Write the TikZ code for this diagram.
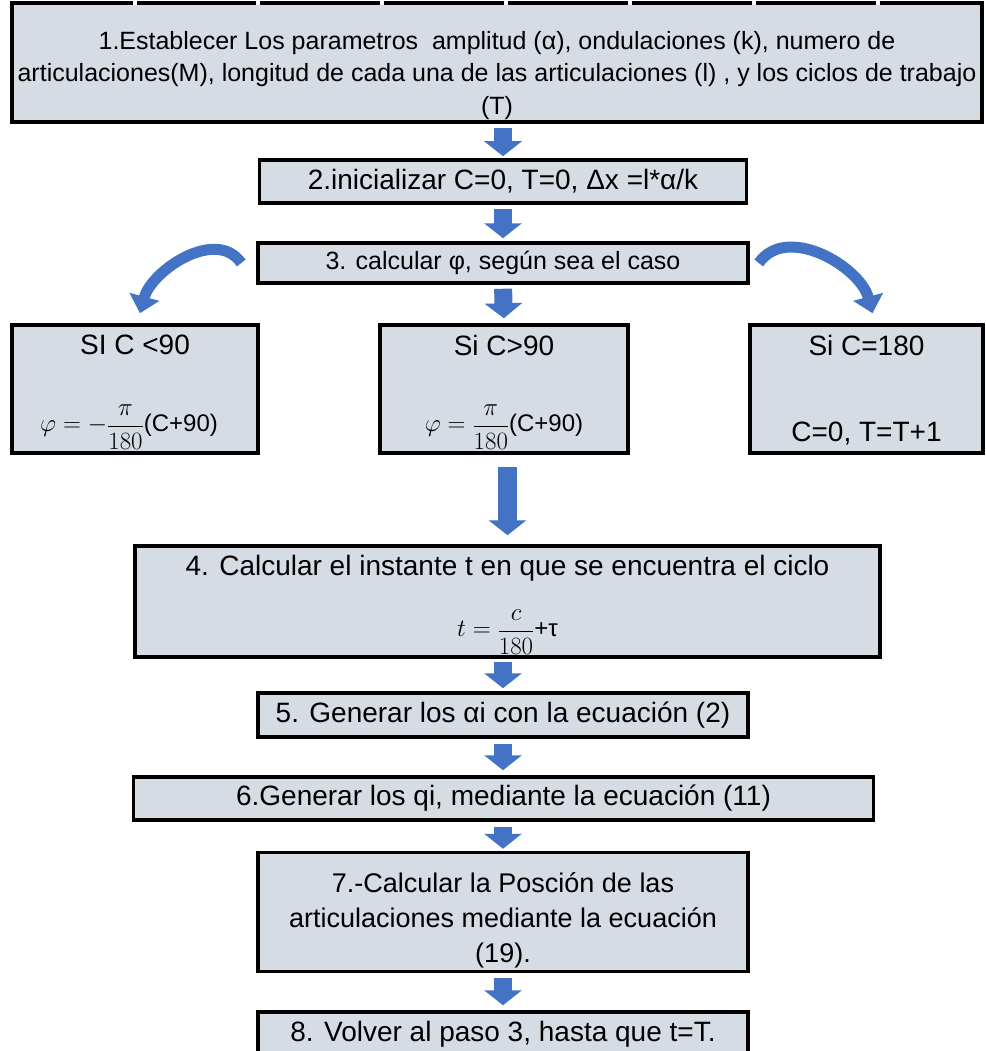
\documentclass[tikz,border=0pt]{standalone}
\usepackage[no-math]{fontspec}
\setmainfont{Liberation Sans}
\usetikzlibrary{arrows.meta}
\definecolor{boxfill}{HTML}{D6DCE4}
\definecolor{arrowblue}{HTML}{4472C4}
\newcommand{\bigmath}[1]{{\fontsize{26}{30}\selectfont$\displaystyle #1$}}
\tikzset{
  stepbox/.style={draw=black,line width=3.5pt,fill=boxfill,inner sep=0pt,align=center,
    font=\fontsize{28}{34}\selectfont},
  steptext/.style={inner sep=0pt,align=center,font=\fontsize{28}{34}\selectfont},
  formula/.style={inner sep=0pt,font=\fontsize{24}{28}\selectfont},
  blockarrow/.style={arrowblue,line width=18pt,-{Triangle[width=37pt,length=15pt]}},
  curvearrow/.style={arrowblue,line width=11pt,-{Triangle[width=30pt,length=17pt]}},
}

\begin{document}
\begin{tikzpicture}[x=1pt,y=-1pt]
  \useasboundingbox (0,0) rectangle (985,1051);
  % main column
  \node[stepbox,minimum width=970pt,minimum height=119pt] (b1) at (497,62.5) {};
  \foreach \gx in {135,258,382,506,630,754,878}
    \fill[white] (\gx-2,0) rectangle (\gx+2,5);
  \node[steptext,font=\fontsize{25}{32.5}\selectfont] (b1t) at ([yshift=-13pt]b1.center)
    {1.Establecer Los parametros~ amplitud (α), ondulaciones (k), numero de\\
     articulaciones(M), longitud de cada una de las articulaciones (l) , y los ciclos de trabajo\\(T)};
  \node[stepbox,minimum width=487pt,minimum height=43pt] (b2) at (503,181.5)
    {2.inicializar C=0, T=0, Δx =l*α/k};
  \node[stepbox,minimum width=490pt,minimum height=40pt,font=\fontsize{25}{30}\selectfont] (b3) at (503,263)
    {3. calcular φ, según sea el caso};
  % cases
  \node[stepbox,minimum width=246pt,minimum height=128pt] (bl) at (135,389) {};
  \node[steptext] (blt) at ([yshift=-22pt]bl.north) {SI C <90};
  \node[formula] (blf) at ([xshift=-6pt,yshift=28pt]bl.south) {\bigmath{\varphi=-\frac{\pi}{180}}(C+90)};
  \node[stepbox,minimum width=248pt,minimum height=128pt] (bm) at (504,389) {};
  \node[steptext] (bmt) at ([yshift=-22pt]bm.north) {Si C>90};
  \node[formula] (bmf) at ([yshift=28pt]bm.south) {\bigmath{\varphi=\frac{\pi}{180}}(C+90)};
  \node[stepbox,minimum width=233pt,minimum height=128pt] (br) at (866.5,389) {};
  \node[steptext] (brt) at ([yshift=-22pt]br.north) {Si C=180};
  \node[steptext] (brf) at ([yshift=21pt]br.south) {C=0, T=T+1};
  % step 4 and onwards
  \node[stepbox,minimum width=745pt,minimum height=111pt] (b4) at (507.5,601.5) {};
  \node[steptext] (b4t) at ([yshift=-24pt]b4.north) {4. Calcular el instante t en que se encuentra el ciclo};
  \node[formula] (b4f) at ([yshift=27pt]b4.south) {\bigmath{t=\frac{c}{180}}+τ};
  \node[stepbox,minimum width=490pt,minimum height=44pt] (b5) at (503,715)
    {5. Generar los αi con la ecuación (2)};
  \node[stepbox,minimum width=740pt,minimum height=43pt] (b6) at (503.5,798.5)
    {6.Generar los qi, mediante la ecuación (11)};
  \node[stepbox,minimum width=490pt,minimum height=119pt] (b7) at (503,912) {};
  \node[steptext,font=\fontsize{27}{35}\selectfont] (b7t) at ([yshift=-8pt]b7.center)
    {7.-Calcular la Posción de las\\articulaciones mediante la ecuación\\(19).};
  \node[stepbox,minimum width=490pt,minimum height=44pt] (b8) at (503,1034)
    {8. Volver al paso 3, hasta que t=T.};
  % arrows
  \draw[blockarrow,shorten <=4pt,shorten >=2pt] (b1.south -| b2.north) -- (b2.north);
  \draw[blockarrow,shorten <=4pt,shorten >=3pt] (b2.south) -- (b3.north);
  \draw[blockarrow,shorten <=4pt,shorten >=5pt] (b3.south) -- (bm.north);
  \draw[blockarrow,line width=19pt,shorten <=12pt,shorten >=9pt] (bm.south -| b4.north) -- (b4.north);
  \draw[blockarrow,shorten <=3pt,shorten >=3pt] (b4.south -| b5.north) -- (b5.north);
  \draw[blockarrow,shorten <=5pt,shorten >=5pt] (b5.south) -- (b6.north -| b5.south);
  \draw[blockarrow,shorten <=5pt,shorten >=2pt] (b6.south -| b7.north) -- (b7.north);
  \draw[blockarrow,shorten <=5pt,shorten >=5pt] (b7.south) -- (b8.north);
  \draw[curvearrow] ([xshift=-15pt]b3.west) to[out=125,in=75] ([xshift=5pt,yshift=10pt]bl.north);
  \draw[curvearrow] ([xshift=9pt]b3.east) to[out=55,in=105] ([xshift=6pt,yshift=10pt]br.north);
\end{tikzpicture}
\end{document}
